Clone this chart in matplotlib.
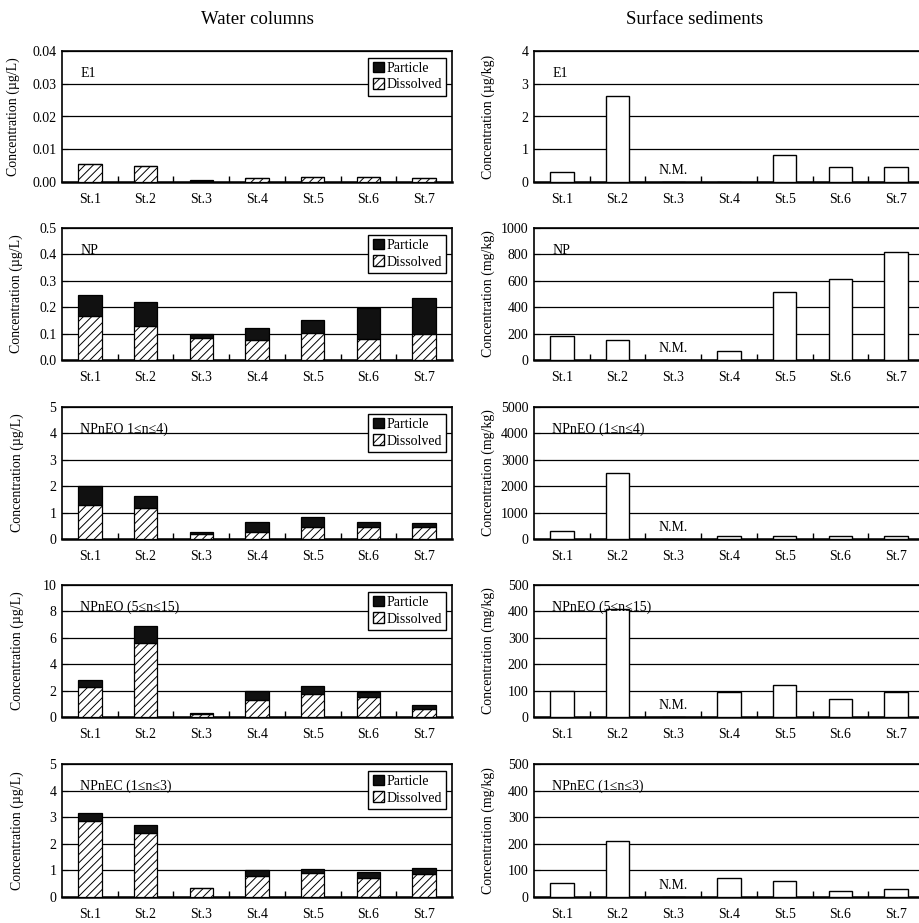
import numpy as np
import matplotlib.pyplot as plt
from matplotlib.patches import Patch

plt.rcParams['font.family'] = ['Liberation Serif', 'DejaVu Serif']
plt.rcParams['hatch.linewidth'] = 0.7

stations = ['St.1', 'St.2', 'St.3', 'St.4', 'St.5', 'St.6', 'St.7']

# water columns: dissolved and total (dissolved + particle)
e1_diss = [0.0055, 0.0048, 0.0002, 0.0013, 0.0014, 0.0014, 0.0013]
e1_total = [0.0055, 0.0048, 0.0007, 0.0013, 0.0014, 0.0014, 0.0013]
np_diss = [0.165, 0.13, 0.082, 0.075, 0.102, 0.08, 0.10]
np_total = [0.245, 0.22, 0.10, 0.12, 0.15, 0.198, 0.233]
eo14_diss = [1.30, 1.16, 0.18, 0.28, 0.47, 0.47, 0.47]
eo14_total = [2.00, 1.63, 0.25, 0.65, 0.83, 0.64, 0.60]
eo515_diss = [2.29, 5.62, 0.25, 1.26, 1.71, 1.51, 0.58]
eo515_total = [2.82, 6.90, 0.30, 1.99, 2.37, 1.91, 0.93]
ec_diss = [2.84, 2.39, 0.33, 0.78, 0.92, 0.70, 0.87]
ec_total = [3.17, 2.70, 0.33, 1.03, 1.04, 0.93, 1.08]

# surface sediments (St.3 not measured)
sed_e1 = [0.31, 2.62, np.nan, 0.0, 0.82, 0.45, 0.45]
sed_np = [185, 155, np.nan, 65, 515, 610, 820]
sed_eo14 = [290, 2490, np.nan, 95, 95, 95, 95]
sed_eo515 = [100, 410, np.nan, 95, 120, 70, 95]
sed_ec = [54, 212, np.nan, 70, 62, 23, 29]

water = [
    ('E1', e1_diss, e1_total, 0.04, 0.01, '%.2f'),
    ('NP', np_diss, np_total, 0.5, 0.1, '%.1f'),
    ('NPnEO 1≤n≤4)', eo14_diss, eo14_total, 5, 1, '%d'),
    ('NPnEO (5≤n≤15)', eo515_diss, eo515_total, 10, 2, '%d'),
    ('NPnEC (1≤n≤3)', ec_diss, ec_total, 5, 1, '%d'),
]
sed = [
    ('E1', sed_e1, 4, 1, 'Concentration (µg/kg)'),
    ('NP', sed_np, 1000, 200, 'Concentration (mg/kg)'),
    ('NPnEO (1≤n≤4)', sed_eo14, 5000, 1000, 'Concentration (mg/kg)'),
    ('NPnEO (5≤n≤15)', sed_eo515, 500, 100, 'Concentration (mg/kg)'),
    ('NPnEC (1≤n≤3)', sed_ec, 500, 100, 'Concentration (mg/kg)'),
]

W, H = 919, 923
fig = plt.figure(figsize=(W / 100, H / 100), dpi=100)
rows = [(51, 182), (228, 360), (407, 539), (585, 717), (764, 897)]
left_label_x = [20, 23, 24, 24, 24]
x = np.arange(len(stations))
bw = 0.42


def style(ax, ymax, step, fmt):
    ax.set_xlim(-0.5, len(stations) - 0.5)
    ax.set_ylim(0, ymax)
    ax.set_yticks(np.arange(0, ymax + step / 2, step))
    ax.yaxis.set_major_formatter(plt.FormatStrFormatter(fmt))
    ax.set_xticks(x)
    ax.set_xticklabels(stations, fontsize=10)
    ax.set_xticks(x[:-1] + 0.5, minor=True)
    ax.tick_params(axis='x', which='major', length=0, pad=8)
    ax.tick_params(axis='x', which='minor', direction='in', length=4, width=1)
    ax.tick_params(axis='y', direction='in', length=4, labelsize=10, pad=4)
    ax.grid(axis='y', color='black', linewidth=0.9)
    ax.set_axisbelow(True)
    for s in ax.spines.values():
        s.set_linewidth(1.2)
    ax.spines['bottom'].set_linewidth(1.8)


for (top, bot), lx, (name, diss, total, ymax, step, fmt) in zip(rows, left_label_x, water):
    ax = fig.add_axes([62 / W, 1 - bot / H, 390 / W, (bot - top) / H])
    part = np.array(total) - np.array(diss)
    ax.bar(x, diss, bw, color='white', edgecolor='black', hatch='////', linewidth=0.9, zorder=3)
    ax.bar(x, part, bw, bottom=diss, color='#111111', edgecolor='black', linewidth=0.9, zorder=3)
    style(ax, ymax, step, fmt)
    ax.set_ylabel('Concentration (µg/L)', fontsize=10)
    ax.yaxis.set_label_coords((lx - 62) / 390, 0.5)
    ax.text(0.047, 0.83, name, transform=ax.transAxes, fontsize=10, va='center')
    handles = [Patch(facecolor='#111111', edgecolor='black'),
               Patch(facecolor='white', edgecolor='black', hatch='////')]
    leg = ax.legend(handles, ['Particle', 'Dissolved'], loc='upper right',
                    bbox_to_anchor=(0.985, 0.95), fontsize=10, frameon=True,
                    fancybox=False, edgecolor='black', framealpha=1,
                    handlelength=0.8, handleheight=0.8, handletextpad=0.2,
                    labelspacing=0.25, borderpad=0.3, borderaxespad=0)
    leg.get_frame().set_linewidth(1.0)
    leg.set_zorder(5)

for (top, bot), (name, vals, ymax, step, ylab) in zip(rows, sed):
    ax = fig.add_axes([534 / W, 1 - bot / H, 390 / W, (bot - top) / H])
    v = np.array(vals, dtype=float)
    ax.bar(x, np.nan_to_num(v), bw, color='white', edgecolor='black', linewidth=1.0, zorder=3)
    style(ax, ymax, step, '%d')
    ax.set_ylabel(ylab, fontsize=10)
    ax.yaxis.set_label_coords((495 - 534) / 390, 0.5)
    ax.text(0.047, 0.83, name, transform=ax.transAxes, fontsize=10, va='center')
    for i in np.where(np.isnan(v))[0]:
        ax.text(x[i], ymax * 0.09, 'N.M.', ha='center', va='center', fontsize=10, zorder=4)

fig.text(257 / W, 1 - 20 / H, 'Water columns', ha='center', va='center', fontsize=13.5)
fig.text(695 / W, 1 - 20 / H, 'Surface sediments', ha='center', va='center', fontsize=13.5)

fig.savefig('out.png', dpi=100)
